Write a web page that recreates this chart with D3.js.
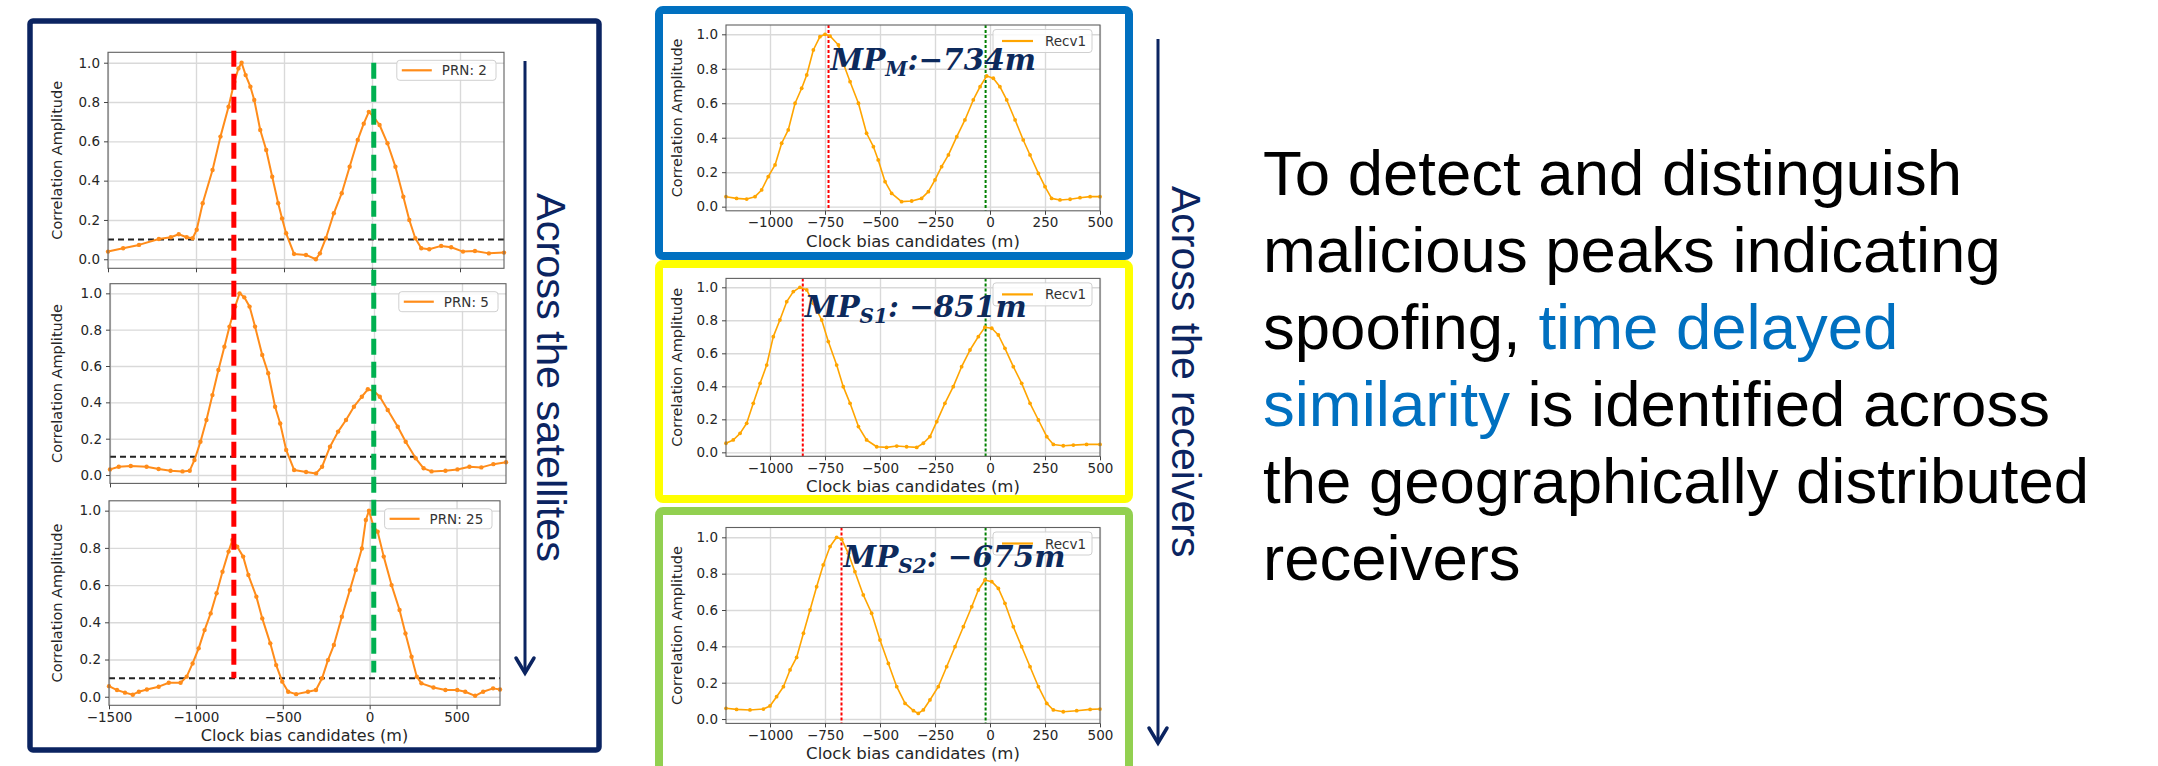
<!DOCTYPE html>
<html><head><meta charset="utf-8">
<script src="https://cdn.jsdelivr.net/npm/d3@7"></script>
<style>body{margin:0;background:#fff}svg{display:block}</style>
</head><body>
<svg id="c" width="2158" height="766"></svg>
<script>
// ---------------- DATA ----------------
const leftXTicks = [-1500, -1000, -500, 0, 500];
const midXTicks = [-1000, -750, -500, -250, 0, 250, 500];
const yTicks = [0, 0.2, 0.4, 0.6, 0.8, 1.0];
const leftXDomain = [-1500, 750];
const midXDomain = [-1200, 500];
const leftYDomain = [-0.046, 1.053];
const midYDomain = [-0.024, 1.054];
const leftLegendLabels = ["PRN: 2", "PRN: 5", "PRN: 25"];
const midLegendLabel = "Recv1";
const spoofPeakLeft = -785;
const truePeakLeft = 10;
const thresholdLevel = 0.1;
const mpValues = [-734, -851, -675];
const truePeakMid = -20;
const mpSubs = ["M", "S1", "S2"];
const mpTexts = [":\u2212734m", ": \u2212851m", ": \u2212675m"];
const sideLabels = ["Across the satellites", "Across the receivers"];
const paragraph = [
  [["To detect and distinguish", "k"]],
  [["malicious peaks indicating", "k"]],
  [["spoofing, ", "k"], ["time delayed", "b"]],
  [["similarity", "b"], [" is identified across", "k"]],
  [["the geographically distributed", "k"]],
  [["receivers", "k"]]
];

const prn2 = [[-1500,0.039],[-1414,0.056],[-1324,0.073],[-1211,0.103],[-1143,0.112],[-1098,0.127],[-1053,0.112],[-1019,0.107],[-996,0.15],[-962,0.285],[-906,0.454],[-861,0.624],[-815,0.776],[-782,0.903],[-759,0.971],[-741,1.0],[-718,0.937],[-691,0.878],[-669,0.81],[-635,0.658],[-601,0.556],[-567,0.42],[-533,0.285],[-511,0.208],[-488,0.132],[-443,0.027],[-375,0.022],[-319,0.0],[-296,0.03],[-262,0.107],[-217,0.234],[-172,0.336],[-127,0.471],[-81,0.607],[-47,0.69],[-18,0.75],[9,0.725],[43,0.683],[88,0.59],[133,0.471],[178,0.318],[212,0.2],[246,0.107],[280,0.056],[325,0.051],[393,0.068],[450,0.061],[517,0.039],[585,0.042],[664,0.03],[750,0.034]];
const prn5 = [[-1500,0.031],[-1450,0.046],[-1382,0.05],[-1292,0.046],[-1224,0.033],[-1156,0.024],[-1088,0.02],[-1047,0.024],[-1020,0.083],[-986,0.183],[-952,0.303],[-918,0.44],[-884,0.578],[-850,0.706],[-821,0.817],[-789,0.927],[-764,1.0],[-737,0.978],[-707,0.927],[-676,0.817],[-635,0.661],[-601,0.56],[-562,0.376],[-533,0.284],[-499,0.138],[-454,0.028],[-386,0.017],[-329,0.009],[-295,0.046],[-250,0.156],[-204,0.239],[-159,0.303],[-114,0.376],[-69,0.431],[-35,0.472],[-1,0.462],[33,0.431],[78,0.358],[135,0.266],[180,0.183],[237,0.092],[282,0.037],[327,0.02],[406,0.024],[474,0.031],[542,0.046],[610,0.042],[678,0.06],[750,0.07]];
const prn25 = [[-1500,0.057],[-1454,0.036],[-1408,0.022],[-1363,0.011],[-1328,0.027],[-1282,0.039],[-1214,0.054],[-1156,0.075],[-1088,0.075],[-1053,0.108],[-1019,0.179],[-984,0.26],[-950,0.358],[-915,0.448],[-881,0.556],[-847,0.672],[-812,0.78],[-790,0.842],[-762,0.806],[-728,0.753],[-698,0.654],[-652,0.538],[-618,0.421],[-572,0.287],[-538,0.17],[-503,0.081],[-469,0.027],[-423,0.014],[-355,0.027],[-309,0.036],[-274,0.099],[-240,0.197],[-206,0.278],[-160,0.43],[-114,0.573],[-80,0.681],[-45,0.797],[-22,0.95],[-4,1.0],[23,0.914],[46,0.887],[81,0.753],[126,0.6],[172,0.466],[206,0.34],[241,0.215],[271,0.108],[298,0.072],[367,0.05],[436,0.036],[504,0.036],[550,0.027],[607,0.005],[653,0.027],[710,0.045],[750,0.039]];
const recvM = [[-1200,0.058],[-1152,0.048],[-1106,0.044],[-1068,0.058],[-1038,0.097],[-1008,0.174],[-977,0.242],[-947,0.368],[-917,0.445],[-886,0.6],[-856,0.687],[-833,0.764],[-803,0.909],[-773,0.986],[-750,1.0],[-727,0.99],[-689,0.938],[-664,0.822],[-636,0.725],[-598,0.6],[-561,0.426],[-530,0.348],[-508,0.271],[-477,0.145],[-447,0.077],[-402,0.029],[-356,0.033],[-311,0.048],[-280,0.087],[-250,0.155],[-220,0.232],[-189,0.3],[-151,0.406],[-114,0.503],[-76,0.619],[-45,0.696],[-15,0.758],[15,0.745],[45,0.696],[76,0.619],[114,0.503],[151,0.387],[182,0.3],[220,0.193],[250,0.116],[280,0.048],[318,0.039],[364,0.043],[409,0.052],[455,0.058],[500,0.058]];
const recvS1 = [[-1200,0.055],[-1167,0.075],[-1136,0.115],[-1106,0.176],[-1076,0.297],[-1045,0.418],[-1015,0.529],[-985,0.701],[-955,0.802],[-924,0.913],[-894,0.974],[-864,1.0],[-833,0.984],[-803,0.903],[-765,0.802],[-735,0.671],[-697,0.529],[-667,0.398],[-636,0.297],[-598,0.156],[-561,0.075],[-515,0.034],[-470,0.03],[-424,0.038],[-379,0.034],[-333,0.03],[-303,0.055],[-273,0.095],[-242,0.186],[-205,0.297],[-167,0.398],[-129,0.519],[-91,0.62],[-53,0.701],[-23,0.758],[8,0.752],[38,0.711],[68,0.63],[106,0.519],[144,0.418],[182,0.297],[220,0.196],[258,0.095],[288,0.048],[333,0.04],[379,0.044],[439,0.048],[500,0.048]];
const recvS2 = [[-1200,0.059],[-1152,0.053],[-1091,0.05],[-1030,0.055],[-1000,0.072],[-970,0.123],[-939,0.178],[-909,0.27],[-879,0.339],[-848,0.472],[-818,0.6],[-788,0.728],[-758,0.848],[-727,0.949],[-697,1.0],[-674,0.989],[-644,0.912],[-614,0.811],[-576,0.683],[-538,0.582],[-500,0.435],[-462,0.306],[-424,0.178],[-386,0.086],[-348,0.046],[-326,0.031],[-303,0.05],[-273,0.105],[-235,0.178],[-197,0.288],[-159,0.398],[-121,0.508],[-83,0.618],[-53,0.71],[-23,0.765],[8,0.756],[38,0.719],[68,0.637],[106,0.508],[144,0.398],[182,0.288],[220,0.178],[258,0.086],[288,0.05],[333,0.04],[394,0.046],[455,0.053],[500,0.055]];

// ---------------- LAYOUT ----------------
const svg = d3.select("#c");
svg.append("rect").attr("width", 2158).attr("height", 766).attr("fill", "#fff");
const NAVY = "#0b2461";
const MPL = "DejaVu Sans, sans-serif";
const ARIAL = "Liberation Sans, Arial, sans-serif";

svg.append("rect").attr("x", 30).attr("y", 21).attr("width", 569).attr("height", 729)
  .attr("rx", 3).attr("fill", "#fff").attr("stroke", NAVY).attr("stroke-width", 5.5);
const boxes = [
  {x: 659, y: 10, w: 470, h: 246, c: "#0070C0"},
  {x: 659, y: 264, w: 470, h: 235, c: "#FFFF00"},
  {x: 659, y: 511, w: 470, h: 270, c: "#92D050"}
];
boxes.forEach(b => svg.append("rect").attr("x", b.x).attr("y", b.y).attr("width", b.w).attr("height", b.h)
  .attr("rx", 4).attr("fill", "#fff").attr("stroke", b.c).attr("stroke-width", 8));

const leftPanels = [
  {data: prn2, legend: leftLegendLabels[0], x0: 108, x1: 504, yt: 52.3, yb: 268.3, showX: false},
  {data: prn5, legend: leftLegendLabels[1], x0: 110, x1: 506, yt: 283.7, yb: 483.4, showX: false},
  {data: prn25, legend: leftLegendLabels[2], x0: 109, x1: 500, yt: 500.8, yb: 705.3, showX: true}
].map(p => Object.assign(p, {xDomain: leftXDomain, yDomain: leftYDomain, xTicks: leftXTicks,
  color: "#ff8c1a", lw: 2, r: 2.2, fs: 13.5, lfs: 16, ylabX: 62, legTop: 8, legH: 20, kind: "L"}));

const midPanels = [
  {data: recvM, i: 0, yt: 25, yb: 210.8, labY: 70},
  {data: recvS1, i: 1, yt: 278.4, yb: 456.3, labY: 317},
  {data: recvS2, i: 2, yt: 527.5, yb: 723.4, labY: 567}
].map(p => Object.assign(p, {x0: 726, x1: 1100, xDomain: midXDomain, yDomain: midYDomain, xTicks: midXTicks,
  legend: midLegendLabel, color: "#ffa500", lw: 1.6, r: 1.9, fs: 13.5, lfs: 16.5, ylabX: 682, legTop: 4.5, legH: 23,
  showX: true, kind: "M"}));

function drawPanel(p) {
  const g = svg.append("g");
  const x = d3.scaleLinear().domain(p.xDomain).range([p.x0, p.x1]);
  const y = d3.scaleLinear().domain(p.yDomain).range([p.yb, p.yt]);
  p.x = x; p.y = y;
  g.append("rect").attr("x", p.x0).attr("y", p.yt).attr("width", p.x1 - p.x0).attr("height", p.yb - p.yt).attr("fill", "#fff");
  g.append("g").attr("transform", `translate(0,${p.yb})`)
    .call(d3.axisBottom(x).tickValues(p.xTicks).tickSize(-(p.yb - p.yt)).tickFormat(""))
    .call(a => { a.select(".domain").remove(); a.selectAll("line").attr("stroke", "#d9d9d9").attr("stroke-width", 1.4); });
  g.append("g").attr("transform", `translate(${p.x0},0)`)
    .call(d3.axisLeft(y).tickValues(yTicks).tickSize(-(p.x1 - p.x0)).tickFormat(""))
    .call(a => { a.select(".domain").remove(); a.selectAll("line").attr("stroke", "#d9d9d9").attr("stroke-width", 1.4); });
  if (p.kind === "L") {
    g.append("line").attr("x1", p.x0).attr("x2", p.x1).attr("y1", y(thresholdLevel)).attr("y2", y(thresholdLevel))
      .attr("stroke", "#222").attr("stroke-width", 2).attr("stroke-dasharray", "6,4");
  } else {
    g.append("line").attr("x1", x(mpValues[p.i])).attr("x2", x(mpValues[p.i])).attr("y1", p.yt).attr("y2", p.yb)
      .attr("stroke", "#ff0000").attr("stroke-width", 2).attr("stroke-dasharray", "3,2");
    g.append("line").attr("x1", x(truePeakMid)).attr("x2", x(truePeakMid)).attr("y1", p.yt).attr("y2", p.yb)
      .attr("stroke", "#008000").attr("stroke-width", 2).attr("stroke-dasharray", "3,2");
  }
  g.append("path").datum(p.data)
    .attr("d", d3.line().x(d => x(d[0])).y(d => y(d[1])))
    .attr("fill", "none").attr("stroke", p.color).attr("stroke-width", p.lw).attr("stroke-linejoin", "round");
  g.selectAll("circle").data(p.data).join("circle")
    .attr("cx", d => x(d[0])).attr("cy", d => y(d[1])).attr("r", p.r).attr("fill", p.color);
  g.append("rect").attr("x", p.x0).attr("y", p.yt).attr("width", p.x1 - p.x0).attr("height", p.yb - p.yt)
    .attr("fill", "none").attr("stroke", "#606060").attr("stroke-width", 1.1);
  const xa = g.append("g").attr("transform", `translate(0,${p.yb})`)
    .call(d3.axisBottom(x).tickValues(p.xTicks).tickSize(4).tickPadding(3)
      .tickFormat(p.showX ? d3.format("d") : ""));
  const ya = g.append("g").attr("transform", `translate(${p.x0},0)`)
    .call(d3.axisLeft(y).tickValues(yTicks).tickSize(4).tickPadding(4).tickFormat(d3.format(".1f")));
  [xa, ya].forEach(a => {
    a.select(".domain").remove();
    a.selectAll("line").attr("stroke", "#444").attr("stroke-width", 1);
    a.selectAll("text").attr("font-family", MPL).attr("font-size", p.fs).attr("fill", "#262626");
  });
  if (p.showX) {
    g.append("text").attr("x", (p.x0 + p.x1) / 2).attr("y", p.yb + 36).attr("text-anchor", "middle")
      .attr("font-family", MPL).attr("font-size", p.lfs).attr("fill", "#262626").text("Clock bias candidates (m)");
  }
  g.append("text").attr("transform", `translate(${p.ylabX},${(p.yt + p.yb) / 2}) rotate(-90)`)
    .attr("text-anchor", "middle").attr("font-family", MPL).attr("font-size", 14.5).attr("fill", "#262626")
    .text("Correlation Amplitude");
  const tw = p.legend.length * 8.2;
  const lw = (p.kind === "L" ? 50 : 58) + tw;
  const lx = p.x1 - 8 - lw, ly = p.yt + p.legTop;
  g.append("rect").attr("x", lx).attr("y", ly).attr("width", lw).attr("height", p.legH).attr("rx", 3)
    .attr("fill", "#fff").attr("fill-opacity", 0.85).attr("stroke", "#d0d0d0");
  const off = p.kind === "L" ? [5, 35, 45] : [9, 40, 52];
  g.append("line").attr("x1", lx + off[0]).attr("x2", lx + off[1]).attr("y1", ly + p.legH / 2).attr("y2", ly + p.legH / 2)
    .attr("stroke", p.color).attr("stroke-width", 2.2);
  g.append("text").attr("x", lx + off[2]).attr("y", ly + p.legH / 2 + 5).attr("font-family", MPL)
    .attr("font-size", 13.5).attr("fill", "#333").text(p.legend);
  return g;
}

leftPanels.forEach(drawPanel);
midPanels.forEach(drawPanel);

midPanels.forEach(p => {
  const t = svg.append("text").attr("x", p.x(mpValues[p.i]) + 2).attr("y", p.labY)
    .attr("font-family", "DejaVu Serif, serif").attr("font-weight", "bold").attr("font-style", "italic")
    .attr("font-size", 29.5).attr("fill", "#0d2a5c");
  t.append("tspan").text("MP");
  t.append("tspan").attr("font-size", 20).attr("dy", 6).text(mpSubs[p.i]);
  t.append("tspan").attr("dy", -6).text(mpTexts[p.i]);
});

const s1 = leftPanels[0], s3 = leftPanels[2];
svg.append("line").attr("x1", s1.x(spoofPeakLeft)).attr("x2", s1.x(spoofPeakLeft))
  .attr("y1", s1.y(leftYDomain[1]) - 1.5).attr("y2", s3.y(thresholdLevel))
  .attr("stroke", "#ff0000").attr("stroke-width", 5).attr("stroke-dasharray", "16,7");
svg.append("line").attr("x1", s1.x(truePeakLeft)).attr("x2", s1.x(truePeakLeft))
  .attr("y1", s1.y(1.0)).attr("y2", s3.y(0.13))
  .attr("stroke", "#00b050").attr("stroke-width", 5).attr("stroke-dasharray", "16,7");

function arrow(x, y1, y2) {
  svg.append("line").attr("x1", x).attr("x2", x).attr("y1", y1).attr("y2", y2)
    .attr("stroke", NAVY).attr("stroke-width", 3);
  svg.append("path").attr("d", `M${x - 9},${y2 - 15} L${x},${y2} L${x + 9},${y2 - 15}`)
    .attr("fill", "none").attr("stroke", NAVY).attr("stroke-width", 3.5).attr("stroke-linecap", "round");
}
arrow(525, 61, 673);
arrow(1158, 39, 743);
svg.append("text").attr("transform", "translate(537,193) rotate(90)")
  .attr("font-family", ARIAL).attr("font-size", 41.5).attr("fill", NAVY).text(sideLabels[0]);
svg.append("text").attr("transform", "translate(1172,186) rotate(90)")
  .attr("font-family", ARIAL).attr("font-size", 41).attr("fill", NAVY).text(sideLabels[1]);

paragraph.forEach((line, i) => {
  const t = svg.append("text").attr("x", 1263).attr("y", 195 + i * 77)
    .attr("font-family", ARIAL).attr("font-size", 63.5);
  line.forEach(seg => t.append("tspan").attr("fill", seg[1] === "b" ? "#0070C0" : "#000").text(seg[0]));
});
</script>
</body></html>
